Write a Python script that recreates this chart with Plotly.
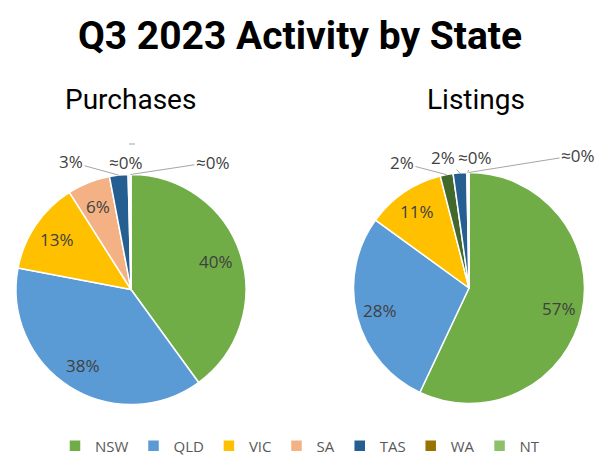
import math
import plotly.graph_objects as go

# ---------------- data ----------------
states = ["NSW", "QLD", "VIC", "SA", "TAS", "WA", "NT"]
purchases = [40, 38, 13, 6, 2.6, 0.25, 0.15]
listings = [57, 28, 11, 1.8, 1.9, 0.2, 0.1]
purchase_text = ["40%", "38%", "13%", "6%", "3%", "≈0%", "≈0%"]
listing_text = ["57%", "28%", "11%", "2%", "2%", "≈0%", "≈0%"]
title_text = "Q3 2023 Activity by State"
subtitles = ["Purchases", "Listings"]

# ---------------- style ----------------
W, H = 600, 470
colors_p = ["#70AD47", "#5B9BD5", "#FFC000", "#F4B183", "#255E91", "#997300", "#8CC168"]
colors_l = ["#70AD47", "#5B9BD5", "#FFC000", "#43682B", "#255E91", "#997300", "#8CC168"]
label_font = "'Open Sans', Lato, sans-serif"
label_color = "#404040"
leader_color = "#A6A6A6"

pies = [
    dict(values=purchases, text=purchase_text, colors=colors_p, cx=131, cy=289.5, r=115,
         n_inside=4, frac=0.78,
         outside_pos={4: (71, 162), 5: (126, 162), 6: (213, 162)}, sub_x=130),
    dict(values=listings, text=listing_text, colors=colors_l, cx=469, cy=288, r=115.5,
         n_inside=3, frac=0.8,
         outside_pos={3: (402, 163), 4: (443, 157), 5: (475, 157), 6: (578, 155)}, sub_x=475.5),
]

fig = go.Figure()
annotations = []

for k, p in enumerate(pies):
    cx, cy, r = p["cx"], p["cy"], p["r"]
    fig.add_trace(go.Pie(
        labels=states, values=p["values"], sort=False, direction="clockwise", rotation=0,
        marker=dict(colors=p["colors"], line=dict(color="white", width=1.5)),
        textinfo="none", hoverinfo="label+percent",
        domain=dict(x=[(cx - r) / W, (cx + r) / W], y=[1 - (cy + r) / H, 1 - (cy - r) / H]),
        showlegend=True,
    ))
    total = sum(p["values"])
    cum = 0.0
    for i, v in enumerate(p["values"]):
        a0 = cum / total * 360
        cum += v
        a1 = cum / total * 360
        mid = math.radians((a0 + a1) / 2)
        if i < p["n_inside"]:
            px = cx + p["frac"] * r * math.sin(mid)
            py = cy - p["frac"] * r * math.cos(mid)
            annotations.append(dict(x=px / W, y=1 - py / H, xref="paper", yref="paper",
                                    xanchor="center", yanchor="middle",
                                    text=p["text"][i], showarrow=False,
                                    font=dict(family=label_font, size=17, color=label_color)))
        elif i in p["outside_pos"]:
            hx = cx + r * math.sin(mid)
            hy = cy - r * math.cos(mid)
            lx, ly = p["outside_pos"][i]
            annotations.append(dict(x=hx / W, y=1 - hy / H, xref="paper", yref="paper",
                                    ax=lx - hx, ay=ly - hy, axref="pixel", ayref="pixel",
                                    text=p["text"][i], showarrow=True, arrowhead=0,
                                    arrowwidth=1, arrowcolor=leader_color, standoff=0,
                                    font=dict(family=label_font, size=17, color=label_color)))
    annotations.append(dict(x=p["sub_x"] / W, y=1 - 99 / H, xref="paper", yref="paper",
                            xanchor="center", yanchor="middle",
                            text=subtitles[k], showarrow=False,
                            font=dict(family="Roboto", size=28, color="black")))

# small stray leader tick above the purchases pie
shapes = [dict(type="line", xref="paper", yref="paper", x0=129 / W, x1=135 / W,
               y0=1 - 144 / H, y1=1 - 144 / H, line=dict(color=leader_color, width=1))]

fig.update_layout(
    width=W, height=H,
    margin=dict(l=0, r=0, t=0, b=0),
    paper_bgcolor="white", plot_bgcolor="white",
    title=dict(text=title_text, x=0.5, xanchor="center", y=1 - 35 / H, yanchor="middle",
               yref="container",
               font=dict(family="Roboto", size=39, color="black", weight="bold")),
    legend=dict(orientation="h", x=0.5, xanchor="center", y=1 - 446 / H, yanchor="middle",
                font=dict(family=label_font, size=15, color="#595959"), itemwidth=30),
    annotations=annotations,
    shapes=shapes,
)

fig.write_html("out.html")
